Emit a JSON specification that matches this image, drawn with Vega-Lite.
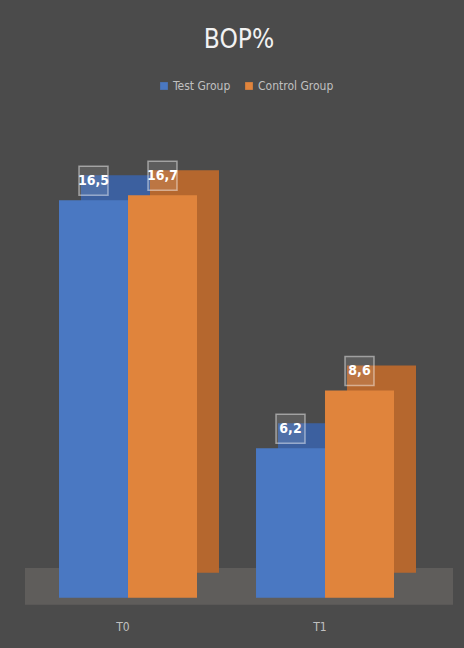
{
  "$schema": "https://vega.github.io/schema/vega-lite/v6.json",
  "autosize": "none",
  "width": 428,
  "height": 441,
  "padding": {"left": 25, "top": 164, "right": 11, "bottom": 43},
  "background": "#4b4b4b",
  "title": {
    "text": "BOP%",
    "frame": "group",
    "anchor": "middle",
    "fontSize": 26,
    "fontWeight": "normal",
    "font": "DejaVu Sans Condensed, Open Sans, sans-serif",
    "color": "#f2f2f2",
    "offset": 6,
    "baseline": "alphabetic"
  },
  "config": {
    "view": {"stroke": null},
    "locale": {"number": {"decimal": ",", "thousands": ".", "grouping": [3], "currency": ["", " €"]}}
  },
  "resolve": {"scale": {"color": "independent", "xOffset": "independent"}, "legend": {"color": "independent"}},
  "data": {
    "values": [
      {"time": "T0", "group": "Test Group", "value": 16.5},
      {"time": "T0", "group": "Control Group", "value": 16.7},
      {"time": "T1", "group": "Test Group", "value": 6.2},
      {"time": "T1", "group": "Control Group", "value": 8.6}
    ]
  },
  "encoding": {
    "x": {
      "field": "time",
      "type": "nominal",
      "scale": {"paddingInner": 0.2995, "paddingOuter": 0.236, "align": 0.3656},
      "axis": {"title": null, "domain": false, "ticks": false, "labelAngle": 0, "labelColor": "#c0c0c0", "labelFontSize": 12, "labelFont": "DejaVu Sans Condensed, Open Sans, sans-serif", "labelPadding": 16, "labelOffset": -5}
    }
  },
  "layer": [
    {
      "data": {"values": [{"floor": "floor"}]},
      "mark": {"type": "rect", "color": "#5f5d5b"},
      "encoding": {
        "x": null,
        "y": {"datum": -0.29, "type": "quantitative", "scale": {"domain": [-0.3, 18], "zero": false, "nice": false}, "axis": null},
        "y2": {"datum": 1.24}
      }
    },
    {
      "mark": {"type": "bar", "yOffset": -25, "y2Offset": -25},
      "encoding": {
        "xOffset": {
          "field": "group",
          "type": "nominal",
          "sort": ["Test Group", "Control Group"],
          "scale": {"paddingInner": 0, "paddingOuter": 0, "range": [22, 160]}
        },
        "y": {"field": "value", "type": "quantitative", "scale": {"domain": [-0.3, 18], "zero": false, "nice": false}, "axis": null},
        "y2": {"datum": 0},
        "color": {
          "field": "group",
          "type": "nominal",
          "scale": {"domain": ["Test Group", "Control Group"], "range": ["#3c609f", "#b5672e"]},
          "legend": null
        }
      }
    },
    {
      "mark": {"type": "bar"},
      "encoding": {
        "xOffset": {
          "field": "group",
          "type": "nominal",
          "sort": ["Test Group", "Control Group"],
          "scale": {"paddingInner": 0, "paddingOuter": 0}
        },
        "y": {"field": "value", "type": "quantitative", "scale": {"domain": [-0.3, 18], "zero": false, "nice": false}, "axis": null},
        "y2": {"datum": 0},
        "color": {
          "field": "group",
          "type": "nominal",
          "sort": ["Test Group", "Control Group"],
          "scale": {"domain": ["Test Group", "Control Group"], "range": ["#4a78c2", "#e0843c"]},
          "legend": {
            "title": null,
            "orient": "none",
            "direction": "horizontal",
            "legendX": 133,
            "legendY": -84,
            "symbolType": "square",
            "symbolSize": 60,
            "labelColor": "#c0c0c0",
            "labelFontSize": 12,
            "labelFont": "DejaVu Sans Condensed, Open Sans, sans-serif",
            "columnPadding": 12,
            "labelOffset": 3
          }
        }
      }
    },
    {
      "mark": {"type": "point", "shape": "square", "size": 841, "filled": true, "fill": "#ffffff", "fillOpacity": 0.1, "stroke": "#ffffff", "strokeOpacity": 0.45, "strokeWidth": 1.5, "yOffset": -19.5},
      "encoding": {
        "xOffset": {
          "field": "group",
          "type": "nominal",
          "sort": ["Test Group", "Control Group"],
          "scale": {"padding": 0.5}
        },
        "y": {"field": "value", "type": "quantitative", "scale": {"domain": [-0.3, 18], "zero": false, "nice": false}, "axis": null}
      }
    },
    {
      "mark": {"type": "text", "color": "#ffffff", "fontWeight": "bold", "fontSize": 14, "font": "DejaVu Sans Condensed, Open Sans, sans-serif", "baseline": "middle", "yOffset": -19.5},
      "encoding": {
        "xOffset": {
          "field": "group",
          "type": "nominal",
          "sort": ["Test Group", "Control Group"],
          "scale": {"padding": 0.5}
        },
        "y": {"field": "value", "type": "quantitative", "scale": {"domain": [-0.3, 18], "zero": false, "nice": false}, "axis": null},
        "text": {"field": "value", "type": "quantitative", "format": ".1f"}
      }
    }
  ]
}
